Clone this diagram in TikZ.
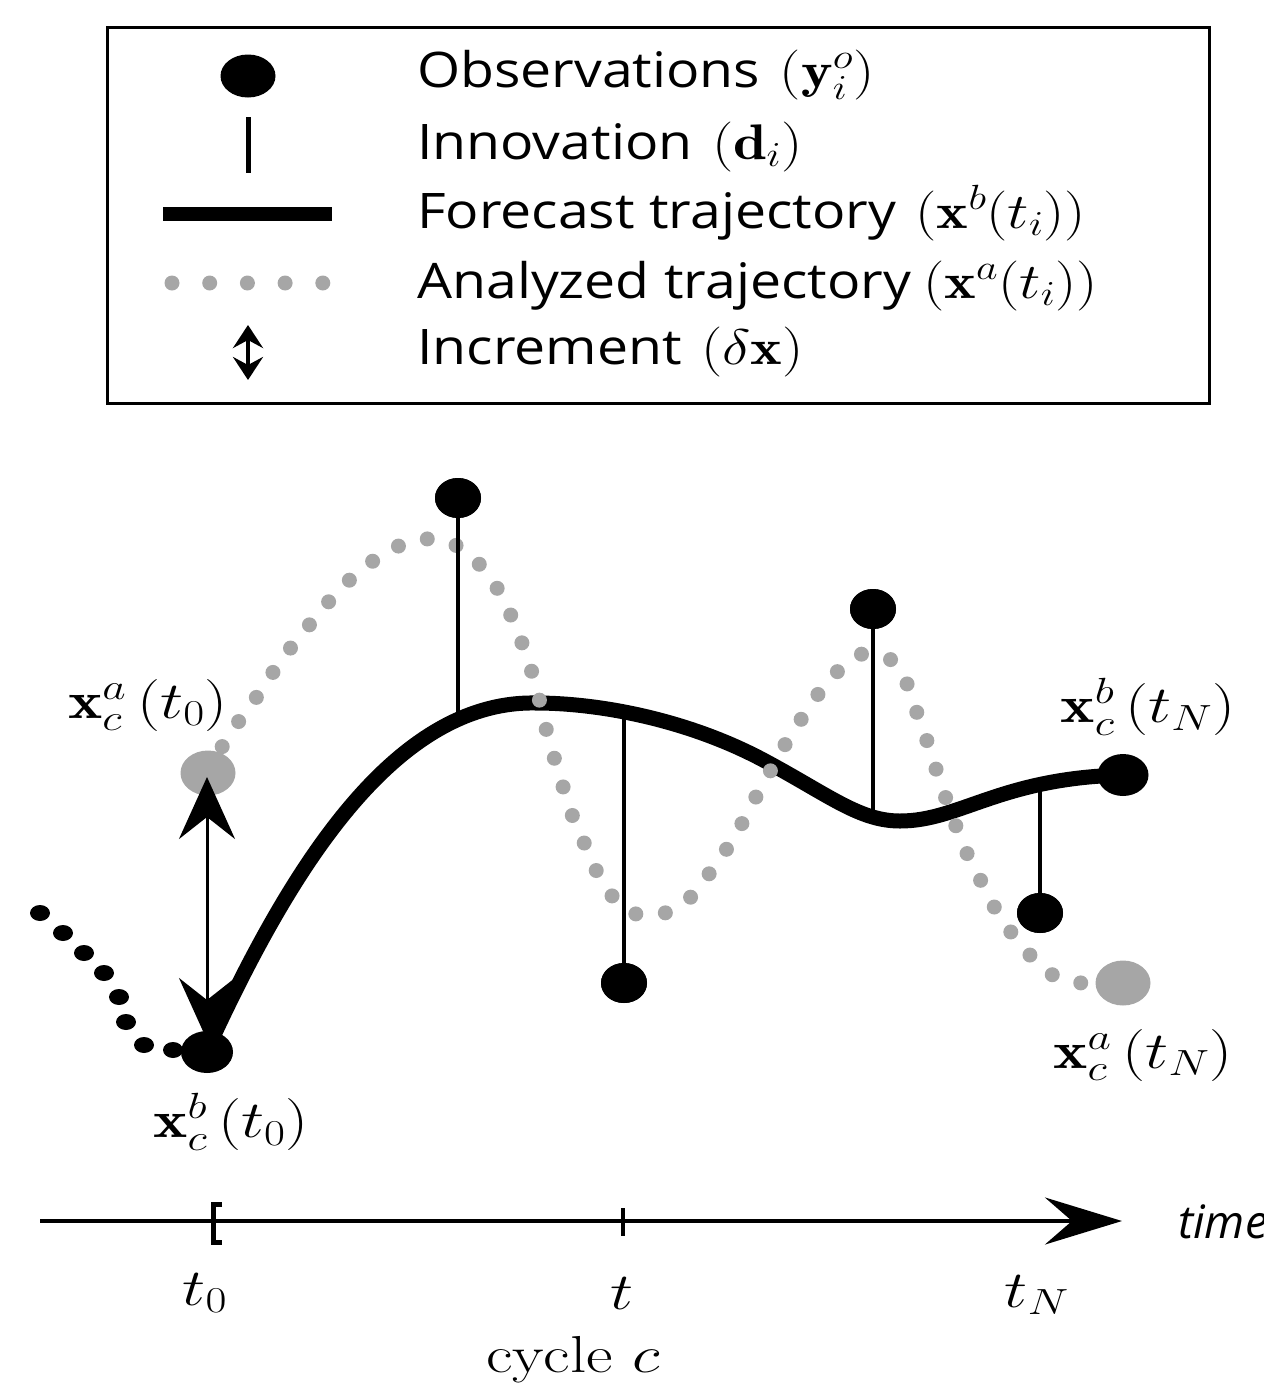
\RequirePackage{fix-cm}
\documentclass[tikz,border=0pt]{standalone}
\usepackage{fontspec}
\usepackage{graphicx}
\newfontfamily\osans{Open Sans}
\usetikzlibrary{arrows.meta,shapes.geometric}
\definecolor{agrey}{HTML}{A6A6A6}
\newcommand\lmx[1]{\scalebox{1.2}[1]{\fontsize{50}{58}\selectfont #1}}
\newcommand\sfx[1]{\scalebox{1.13}[1]{#1}}
\begin{document}
\begin{tikzpicture}[x=1pt,y=-1pt,
  obsdot/.style={ellipse,fill=black,inner sep=0pt,minimum width=46pt,minimum height=40pt},
  enddot/.style={ellipse,fill=black,inner sep=0pt,minimum width=51pt,minimum height=42pt},
  greydot/.style={ellipse,fill=agrey,inner sep=0pt,minimum width=55pt,minimum height=45pt},
  smalldot/.style={ellipse,fill=black,inner sep=0pt,minimum width=20pt,minimum height=16pt},
  innov/.style={line width=3.5pt},
  forecast/.style={line width=15pt,line cap=round},
  analyzed/.style={line width=15pt,agrey,line cap=round,dash pattern=on 0pt off 30pt},
  legtext/.style={anchor=base west,inner sep=0pt,font=\osans\fontsize{49}{58}\selectfont},
  mlabel/.style={inner sep=0pt,font=\fontsize{52}{60}\selectfont,xscale=1.25},
  incarrow/.style={line width=3pt,{Stealth[length=62pt,width=56pt,inset=22pt]}-{Stealth[length=62pt,width=56pt,inset=22pt]}},
  legarrow/.style={line width=4pt,{Stealth[length=23pt,width=30pt,inset=8pt]}-{Stealth[length=23pt,width=30pt,inset=8pt]}},
  axisarrow/.style={line width=4pt,-{Stealth[length=77pt,width=47pt,inset=27pt]}}
]
\useasboundingbox (0,0) rectangle (1264,1398);

% ---------------- legend ----------------
\draw[line width=3pt] (107,27) rectangle (1209,403);
\node[obsdot,minimum width=55pt,minimum height=43pt] (lgobs) at (248,76) {};
\coordinate (lgi1) at (248,117);
\coordinate (lgi2) at (248,173);
\draw[line width=5pt] (lgi1) -- (lgi2);
\coordinate (lgf1) at (163,214);
\coordinate (lgf2) at (332,214);
\draw[line width=14pt] (lgf1) -- (lgf2);
\coordinate (lga1) at (172,283);
\coordinate (lga2) at (324,283);
\draw[analyzed,dash pattern=on 0pt off 37.7pt] (lga1) -- (lga2);
\coordinate (lgd1) at (248,325);
\coordinate (lgd2) at (248,380);
\draw[legarrow] (lgd1) -- (lgd2);

\node[legtext] (tobs) at (417,87) {\sfx{Observations}\hspace{0.4em}\lmx{$(\mathbf{y}_i^o)$}};
\node[legtext] (tinn) at (417,159) {\sfx{Innovation}\hspace{0.4em}\lmx{$(\mathbf{d}_i)$}};
\node[legtext] (tfor) at (417,228) {\sfx{Forecast trajectory}\hspace{0.4em}\lmx{$(\mathbf{x}^b(t_i))$}};
\node[legtext] (tana) at (417,298) {\sfx{Analyzed trajectory}\hspace{0.25em}\lmx{$(\mathbf{x}^a(t_i))$}};
\node[legtext] (tinc) at (417,364) {\sfx{Increment}\hspace{0.4em}\lmx{$(\delta\mathbf{x})$}};

% ---------------- trajectories ----------------
\coordinate (fs) at (207,1050);
\coordinate (fpk) at (536,703);
\coordinate (fin) at (767,762);
\coordinate (ftr) at (900,821);
\coordinate (fe) at (1123,775);
\draw[forecast] (fs) .. controls (285,880) and (390,700) .. (fpk)
  .. controls (600,703) and (690,720) .. (fin)
  .. controls (830,796) and (860,821) .. (ftr)
  .. controls (960,821) and (1000,778) .. (fe);

\coordinate (fA) at (458,722);
\coordinate (fB) at (873,815);
\coordinate (fC) at (624,712);
\coordinate (fD) at (1040,782);

\draw[analyzed] plot[smooth,tension=0.5] coordinates {
 (208,773) (230,733) (248,710) (265,684) (281,661) (299,637) (318,615)
 (337,592) (360,571) (385,553) (415,540) (447,541) (473,558) (492,580)
 (506,605) (518,632) (527,658) (536,685) (542,712) (549,740) (557,767)
 (565,793) (574,820) (586,847) (597,872) (613,897) (639,915) (671,911)
 (696,892) (713,868) (730,844) (745,818) (758,793) (772,768) (786,743)
 (802,718) (819,693) (837,672) (862,654) (893,661) (908,686) (917,713)
 (926,738) (935,766) (944,793) (953,818) (964,847) (976,871) (989,897)
 (1003,922) (1022,945) (1042,968) (1071,982) (1123,983)};

% observations and innovations
\node[obsdot] (obsA) at (458,498) {};
\node[obsdot] (obsB) at (873,609) {};
\node[obsdot] (obsC) at (624,983) {};
\node[obsdot] (obsD) at (1040,913) {};
\draw[innov] (obsA.center) -- (fA);
\draw[innov] (obsB.center) -- (fB);
\draw[innov] (obsC.center) -- (fC);
\draw[innov] (obsD.center) -- (fD);
\node[obsdot] at (obsA) {};
\node[obsdot] at (obsB) {};
\node[obsdot] at (obsC) {};
\node[obsdot] at (obsD) {};

% previous cycle (black dots)
\node[smalldot] (p1) at (40,913) {};
\node[smalldot] (p2) at (63,933) {};
\node[smalldot] (p3) at (84,953) {};
\node[smalldot] (p4) at (104,973) {};
\node[smalldot] (p5) at (119,997) {};
\node[smalldot] (p6) at (126,1022) {};
\node[smalldot] (p7) at (144,1045) {};
\node[smalldot] (p8) at (173,1050) {};

% states
\node[greydot] (xa0) at (208,773) {};
\node[greydot] (xaN) at (1123,983) {};
\node[enddot,minimum width=52pt] (xb0) at (207,1052) {};
\node[enddot] (xbN) at (1123,775) {};

% increment
\coordinate (inc1) at (207,1040);
\coordinate (inc2) at (207,777);
\draw[incarrow] (inc1) -- (inc2);

% labels
\node[mlabel] (lxa0) at (148,705) {$\mathbf{x}_c^a\,(t_0)$};
\node[mlabel] (lxb0) at (231,1122) {$\mathbf{x}_c^b\,(t_0)$};
\node[mlabel] (lxbN) at (1148,707) {$\mathbf{x}_c^b\,(t_N)$};
\node[mlabel] (lxaN) at (1143,1055) {$\mathbf{x}_c^a\,(t_N)$};

% ---------------- time axis ----------------
\coordinate (axL) at (40,1221);
\coordinate (axR) at (1122,1221);
\draw[axisarrow] (axL) -- (axR);
\coordinate (br1) at (222,1204);
\coordinate (br2) at (222,1242);
\draw[line width=5pt] (br1) -- ++(-9,0) |- (br2);
\coordinate (tk1) at (623,1208);
\coordinate (tk2) at (623,1236);
\draw[line width=4pt] (tk1) -- (tk2);

\node[mlabel] (lt0) at (205,1293) {$t_0$};
\node[mlabel] (lt) at (622,1293) {$t$};
\node[mlabel] (ltN) at (1037,1295) {$t_N$};
\node[mlabel] (lcyc) at (573,1360) {cycle $c$};
\node[anchor=west,inner sep=0pt,font=\osans\itshape\fontsize{46}{54}\selectfont] (ltime) at (1178,1222) {time};
\end{tikzpicture}
\end{document}
